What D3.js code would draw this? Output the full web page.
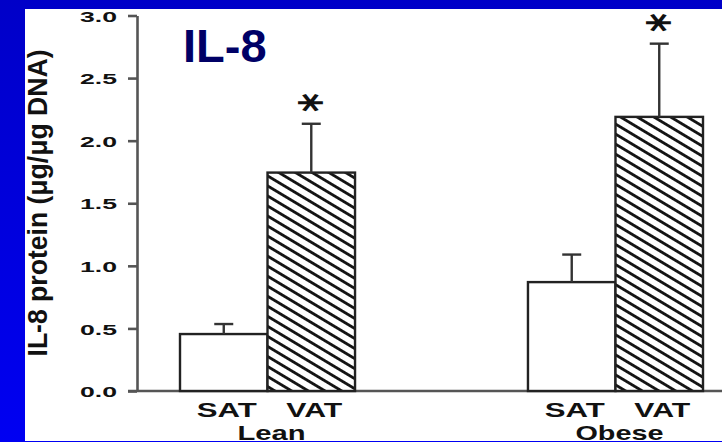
<!DOCTYPE html>
<html>
<head>
<meta charset="utf-8">
<script src="https://cdn.jsdelivr.net/npm/d3@7"></script>
<style>
  html, body { margin: 0; padding: 0; background: #0000dd; }
  svg { display: block; }
</style>
</head>
<body>
<svg id="chart" width="722" height="442"></svg>
<script>
// ---- data ----
const groups = ["Lean", "Obese"];
const types = ["SAT", "VAT"];
const satMeans = [0.455, 0.87];
const satErrors = [0.08, 0.22];
const vatMeans = [1.745, 2.19];
const vatErrors = [0.39, 0.585];
const vatSig = ["*", "*"];
const yTicks = [0, 0.5, 1.0, 1.5, 2.0, 2.5, 3.0];
const title = "IL-8";
const yLabel = "IL-8 protein (\u03bcg/\u03bcg DNA)";

const bars = [];
groups.forEach((g, i) => {
  bars.push({ group: g, type: "SAT", value: satMeans[i], err: satErrors[i], sig: "" });
  bars.push({ group: g, type: "VAT", value: vatMeans[i], err: vatErrors[i], sig: vatSig[i] });
});

const svg = d3.select("#chart");
const W = 722, H = 442;

const defs = svg.append("defs");
const grad = defs.append("linearGradient").attr("id", "bg").attr("x1", 0).attr("y1", 0).attr("x2", 0).attr("y2", 1);
grad.append("stop").attr("offset", "0%").attr("stop-color", "#0000c8");
grad.append("stop").attr("offset", "100%").attr("stop-color", "#0000f2");

// background panel
svg.append("rect").attr("x", 0).attr("y", 0).attr("width", W).attr("height", H).attr("fill", "url(#bg)");
svg.append("rect").attr("x", 25).attr("y", 9).attr("width", W - 25).attr("height", 432).attr("fill", "#ffffff");

// hatch pattern
const pat = defs.append("pattern")
  .attr("id", "hatch")
  .attr("patternUnits", "userSpaceOnUse")
  .attr("width", 20).attr("height", 8.6)
  .attr("patternTransform", "rotate(31)");
pat.append("rect").attr("width", 20).attr("height", 8.6).attr("fill", "#fff");
pat.append("line").attr("x1", 0).attr("x2", 20).attr("y1", 4.3).attr("y2", 4.3)
  .attr("stroke", "#111").attr("stroke-width", 2.8);

// scales
const y = d3.scaleLinear().domain([0, 3]).range([391, 15.5]);
const xGroup = d3.scaleBand().domain(groups).range([180, 703]).paddingInner(0.497).paddingOuter(0);
const xType = d3.scaleBand().domain(types).range([0, xGroup.bandwidth()]).padding(0);

// y axis
const yAxis = d3.axisLeft(y).tickValues(yTicks).tickFormat(d3.format(".1f"))
  .tickSize(9).tickSizeOuter(0).tickPadding(11);
const gy = svg.append("g").attr("transform", "translate(137,0)").call(yAxis);
gy.select(".domain").attr("stroke", "#555").attr("stroke-width", 2.6);
gy.selectAll(".tick line").attr("stroke", "#555").attr("stroke-width", 2.6);
gy.selectAll(".tick text")
  .attr("font-family", "'Liberation Sans', Arial, sans-serif")
  .attr("font-weight", "bold").attr("font-size", 15).attr("fill", "#111")
  .attr("textLength", 37).attr("lengthAdjust", "spacingAndGlyphs")
  .attr("dy", "0.38em");

// baseline
svg.append("line").attr("x1", 128).attr("x2", W).attr("y1", y(0)).attr("y2", y(0))
  .attr("stroke", "#555").attr("stroke-width", 2.6);

// bars
const bx = d => xGroup(d.group) + xType(d.type);
svg.selectAll("rect.bar").data(bars).enter().append("rect")
  .attr("class", "bar")
  .attr("x", d => bx(d))
  .attr("y", d => y(d.value))
  .attr("width", xType.bandwidth())
  .attr("height", d => y(0) - y(d.value))
  .attr("fill", d => d.type === "VAT" ? "url(#hatch)" : "#fff")
  .attr("stroke", "#222").attr("stroke-width", 2.4);

// error bars
const eb = svg.selectAll("g.err").data(bars).enter().append("g").attr("class", "err");
eb.append("line")
  .attr("x1", d => bx(d) + xType.bandwidth() / 2)
  .attr("x2", d => bx(d) + xType.bandwidth() / 2)
  .attr("y1", d => y(d.value))
  .attr("y2", d => y(d.value + d.err))
  .attr("stroke", "#333").attr("stroke-width", 2.4);
eb.append("line")
  .attr("x1", d => bx(d) + xType.bandwidth() / 2 - 9.5)
  .attr("x2", d => bx(d) + xType.bandwidth() / 2 + 9.5)
  .attr("y1", d => y(d.value + d.err))
  .attr("y2", d => y(d.value + d.err))
  .attr("stroke", "#333").attr("stroke-width", 2.4);

// significance asterisks (6-armed, horizontal arm, as in the reference)
svg.selectAll("text.sig").data(bars.filter(d => d.sig)).enter().append("text")
  .attr("class", "sig")
  .attr("transform", d => `translate(${bx(d) + xType.bandwidth() / 2},${y(d.value + d.err) - 21}) rotate(90) scale(0.72,1.05)`)
  .attr("x", 0)
  .attr("y", 27)
  .attr("text-anchor", "middle")
  .attr("font-family", "'DejaVu Sans', sans-serif")
  .attr("font-weight", "bold")
  .attr("font-size", 50)
  .attr("fill", "#111")
  .text(d => d.sig);

// category labels
svg.selectAll("text.type").data(bars).enter().append("text")
  .attr("class", "type")
  .attr("x", d => bx(d) + xType.bandwidth() / 2 + 3)
  .attr("y", 417)
  .attr("text-anchor", "middle")
  .attr("font-family", "'Liberation Sans', Arial, sans-serif")
  .attr("font-weight", "bold").attr("font-size", 20).attr("fill", "#111")
  .attr("textLength", d => d.type === "SAT" ? 60 : 56)
  .attr("lengthAdjust", "spacingAndGlyphs")
  .text(d => d.type);

svg.selectAll("text.group").data(groups).enter().append("text")
  .attr("class", "group")
  .attr("x", d => xGroup(d) + xGroup.bandwidth() / 2 + 4)
  .attr("y", 440)
  .attr("text-anchor", "middle")
  .attr("font-family", "'Liberation Sans', Arial, sans-serif")
  .attr("font-weight", "bold").attr("font-size", 21).attr("fill", "#111")
  .attr("textLength", d => d === "Lean" ? 68 : 88)
  .attr("lengthAdjust", "spacingAndGlyphs")
  .text(d => d);

// blue strip at bottom (as in the reference)
svg.append("rect").attr("x", 0).attr("y", 441).attr("width", W).attr("height", 1).attr("fill", "#0000f2");

// y label
svg.append("text")
  .attr("transform", "translate(47,203) rotate(-90)")
  .attr("text-anchor", "middle")
  .attr("font-family", "'Liberation Sans', Arial, sans-serif")
  .attr("font-weight", "bold").attr("font-size", 27).attr("fill", "#111")
  .attr("textLength", 307).attr("lengthAdjust", "spacingAndGlyphs")
  .text(yLabel);

// title
svg.append("text")
  .attr("x", 183).attr("y", 62)
  .attr("font-family", "'Liberation Sans', Arial, sans-serif")
  .attr("font-weight", "bold").attr("font-size", 47).attr("fill", "#000066")
  .text(title);
</script>
</body>
</html>
